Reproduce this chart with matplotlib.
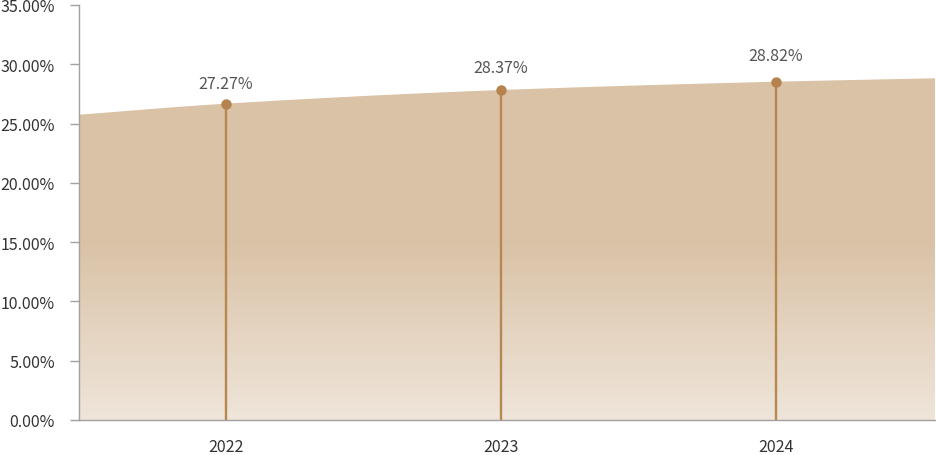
import numpy as np
import matplotlib
matplotlib.use("Agg")
import matplotlib.pyplot as plt
from matplotlib.colors import LinearSegmentedColormap

plt.rcParams['font.family'] = ['Noto Sans CJK SC', 'DejaVu Sans']

years = ["2022", "2023", "2024"]
labels = ["27.27%", "28.37%", "28.82%"]
dot_values = [26.68, 27.83, 28.53]          # dot heights as drawn
edge_values = [25.75, 28.82]                # area height at left / right edge
yticks = [0, 5, 10, 15, 20, 25, 30, 35]

fig = plt.figure(figsize=(9.36, 4.56), dpi=100)
ax = fig.add_axes([79/936, 35/456, (935-79)/936, (421-6)/456])

x = np.arange(len(years))
xmin, xmax = -0.5345, 2.578
ax.set_xlim(xmin, xmax)
ax.set_ylim(0, 35)

# smooth area curve (PCHIP through read points)
kx = np.array([xmin, *x, xmax], dtype=float)
ky = np.array([edge_values[0], *dot_values, edge_values[1]], dtype=float)
h = np.diff(kx)
d = np.diff(ky) / h
m = np.zeros_like(ky)
for i in range(1, len(ky) - 1):
    if d[i-1] * d[i] > 0:
        w1 = 2*h[i] + h[i-1]
        w2 = h[i] + 2*h[i-1]
        m[i] = (w1 + w2) / (w1/d[i-1] + w2/d[i])
m[0] = d[0]
m[-1] = d[-1]
xs = np.linspace(xmin, xmax, 400)
ys = np.empty_like(xs)
for j, xv in enumerate(xs):
    i = min(np.searchsorted(kx, xv, side='right') - 1, len(h) - 1)
    t = (xv - kx[i]) / h[i]
    h00 = 2*t**3 - 3*t**2 + 1
    h10 = t**3 - 2*t**2 + t
    h01 = -2*t**3 + 3*t**2
    h11 = t**3 - t**2
    ys[j] = h00*ky[i] + h10*h[i]*m[i] + h01*ky[i+1] + h11*h[i]*m[i+1]

poly = ax.fill_between(xs, 0, ys, color='none', lw=0)
cmap = LinearSegmentedColormap.from_list(
    'g', [(0.0, '#efe5da'), (0.42, '#dac3a7'), (1.0, '#d9c2a5')])
grad = np.linspace(0, 1, 256).reshape(-1, 1)
im = ax.imshow(grad, cmap=cmap, origin='lower', aspect='auto',
               extent=[xmin, xmax, 0, 35], zorder=1)
path = poly.get_paths()[0]
im.set_clip_path(path, transform=ax.transData)

# stems and dots
stem_c = '#b8874f'
ax.vlines(x, 0, dot_values, color=stem_c, lw=1.7, zorder=3)
ax.plot(x, dot_values, 'o', color='#b5834d', ms=7.5, zorder=4, mec='none')
label_offsets = [8.6, 10.2, 12.5]
for xi, yv, lab, off in zip(x, dot_values, labels, label_offsets):
    ax.annotate(lab, (xi, yv), xytext=(0, off), textcoords='offset points',
                ha='center', va='bottom', fontsize=11.5, color='#555555')

ax.set_xticks(x)
ax.set_xticklabels(years)
ax.set_yticks(yticks)
ax.set_yticklabels([f"{v:.2f}%" for v in yticks])
ax.tick_params(axis='x', length=0, pad=13, labelsize=11.5, labelcolor='#333333')
ax.tick_params(axis='y', length=6.5, width=1, color='#a0a0a0', pad=11,
               labelsize=11.5, labelcolor='#333333')
for s in ['top', 'right']:
    ax.spines[s].set_visible(False)
for s in ['left', 'bottom']:
    ax.spines[s].set_color('#a0a0a0')
    ax.spines[s].set_linewidth(1)
ax.spines['bottom'].set_zorder(5)

fig.savefig('out.png', dpi=100)
